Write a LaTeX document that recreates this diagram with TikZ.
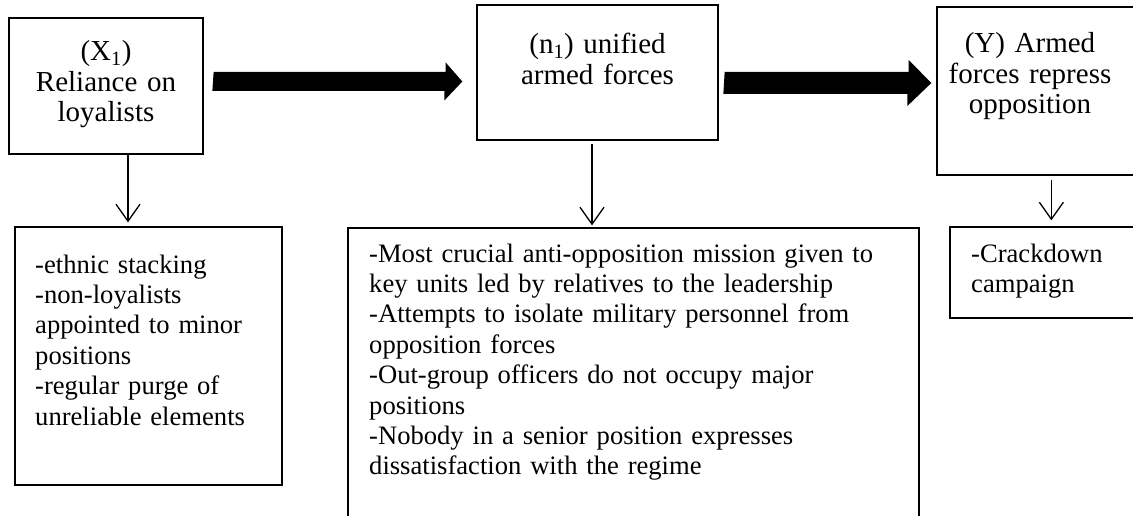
\documentclass[tikz,border=0pt]{standalone}
\usepackage{fontspec}
\setmainfont{Liberation Serif}
\usetikzlibrary{calc,arrows.meta}
\tikzset{
  box/.style={draw, line width=1.3pt, inner sep=0pt, rectangle},
  title/.style={font=\fontsize{29}{30.5}\selectfont, inner sep=0pt, align=center, anchor=base},
  body/.style={font=\fontsize{26.6}{30.4}\selectfont, inner sep=0pt, align=left, anchor=base west, text width=560pt},
  thinarr/.style={line width=1.3pt, -{Straight Barb[length=17pt 0, width=24pt 0]}},
  bigarr/.style={fill=black}
}
\begin{document}
\begin{tikzpicture}[x=1pt,y=-1pt]
\clip (0,0) rectangle (1133,516);
\fill[white] (0,0) rectangle (1133,516);

% boxes
\node[box, minimum width=194pt, minimum height=136pt] (x1) at (106,86) {};
\node[box, minimum width=241pt, minimum height=135pt] (n1) at (597.5,72.5) {};
\node[box, minimum width=208pt, minimum height=168pt] (yb) at (1041,91) {};
\node[box, minimum width=267pt, minimum height=258pt] (l1) at (148.5,356) {};
\node[box, minimum width=571pt, minimum height=302pt] (m1) at (633.5,379) {};
\node[box, minimum width=195pt, minimum height=91pt] (c1) at (1047.5,272.5) {};

% titles
\node[title, text width=190pt] (x1t) at (106,61) {(X\textsubscript{1})\\Reliance on\\loyalists};
\node[title, text width=236pt] (n1t) at (597.5,54) {(n\textsubscript{1}) unified\\armed forces};
\node[title, text width=200pt] (yt) at (1030,53) {(Y) Armed\\forces repress\\opposition};

% bodies
\node[body] (l1t) at (35,273) {-ethnic stacking\\-non-loyalists\\appointed to minor\\positions\\-regular purge of\\unreliable elements};
\node[body] (m1t) at (369,262) {-Most crucial anti-opposition mission given to\\key units led by relatives to the leadership\\-Attempts to isolate military personnel from\\opposition forces\\-Out-group officers do not occupy major\\positions\\-Nobody in a senior position expresses\\dissatisfaction with the regime};
\node[body] (c1t) at (971,262) {-Crackdown\\campaign};

% big arrows
\coordinate (a1s) at ($(x1.east)+(10,-4.5)$);
\coordinate (a1e) at ($(n1.west)+(-14,9)$);
\fill[bigarr] (a1s) ++(0,-9.5) -- ++(232,0) -- ++(0,-9.5) -- (a1e) -- ++(-18,19) -- ++(0,-9.5) -- ++(-232,0) -- cycle;

\coordinate (a2s) at ($(n1.east)+(6,10.5)$);
\coordinate (a2e) at ($(yb.west)+(-5,-8)$);
\fill[bigarr] (a2s) ++(0,-11) -- ++(184,0) -- ++(0,-12) -- (a2e) -- ++(-24,23) -- ++(0,-12) -- ++(-184,0) -- cycle;

% thin arrows
\coordinate (s1) at ($(x1.south)+(22,0)$);
\draw[thinarr, shorten >=4pt] (s1) -- (s1 |- l1.north);
\coordinate (s2) at ($(n1.south)+(-5.5,3)$);
\draw[thinarr, shorten >=2pt] (s2) -- (s2 |- m1.north);
\coordinate (s3) at ($(yb.south west)+(115,4)$);
\draw[thinarr, shorten >=6pt] (s3) -- (s3 |- c1.north);
\end{tikzpicture}
\end{document}
